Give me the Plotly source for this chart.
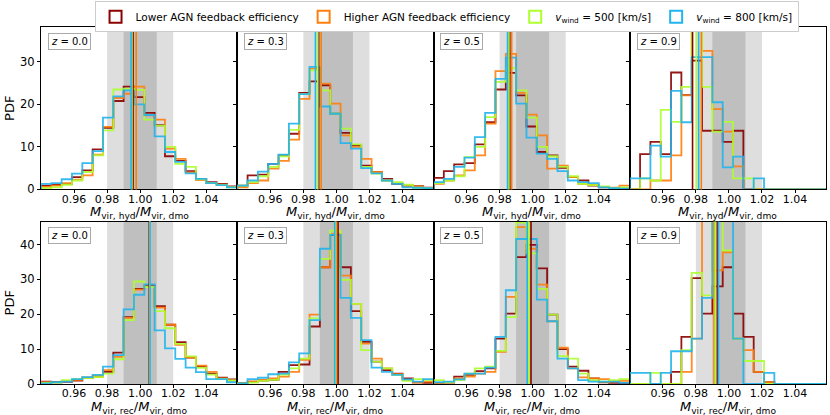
import plotly.graph_objects as go
from plotly.subplots import make_subplots

# histogram bins (same for every panel)
bin_edges = [0.94, 0.94625, 0.9525, 0.95875, 0.965, 0.97125, 0.9775, 0.98375, 0.99, 0.99625,
             1.0025, 1.00875, 1.015, 1.02125, 1.0275, 1.03375, 1.04, 1.04625, 1.0525, 1.05875]
redshifts = ["0.0", "0.3", "0.5", "0.9"]

series_names = [
    "Lower AGN feedback efficiency",
    "Higher AGN feedback efficiency",
    "<i>v</i><sub>wind</sub> = 500 [km/s]",
    "<i>v</i><sub>wind</sub> = 800 [km/s]",
]
colors = ["#8b0000", "#ff7f0e", "#adff2f", "#22b4ee"]

# top row: M_vir,hyd / M_vir,dmo, one list per redshift
hyd_lower = [
    [0.9, 1.1, 1.3, 2.9, 4.5, 9.4, 14.5, 20.8, 24.2, 21.7, 18.0, 15.1, 7.8, 6.7, 4.3, 2.5, 1.7, 1.3, 0.7],
    [0.9, 3.3, 3.5, 6.0, 8.0, 13.1, 22.7, 25.4, 24.5, 17.8, 13.3, 10.4, 5.6, 4.1, 2.5, 1.3, 0.9, 0.8, 0.4],
    [2.7, 4.3, 5.9, 6.2, 10.6, 15.8, 23.5, 27.4, 22.1, 14.8, 8.8, 8.0, 5.1, 2.9, 2.1, 0.9, 0.5, 0.3, 0.2],
    [0, 8.3, 11.2, 8.3, 27.5, 22.2, 30.3, 13.8, 13.8, 11.2, 13.8, 0, 0, 0, 0, 0, 0, 0, 0],
]
hyd_higher = [
    [0.6, 0.9, 1.5, 2.3, 3.3, 8.2, 14.7, 21.5, 22.5, 24.2, 17.4, 16.4, 9.6, 7.2, 4.0, 2.2, 1.5, 1.1, 0.6],
    [0.5, 1.5, 2.1, 4.9, 6.7, 11.7, 21.3, 28.4, 24.9, 20.2, 12.7, 10.0, 7.2, 4.1, 2.1, 1.5, 0.9, 0.7, 0.3],
    [1.3, 2.1, 3.3, 4.5, 8.0, 15.5, 27.8, 31.9, 22.7, 17.6, 12.7, 4.9, 5.6, 2.9, 1.3, 1.1, 0.6, 0.4, 0.9],
    [0, 0, 2.1, 2.1, 8.0, 22.1, 55.0, 32.6, 18.9, 13.6, 5.4, 0, 0, 0, 0, 0, 0, 0, 0],
]
hyd_v500 = [
    [0.3, 0.5, 1.1, 2.1, 4.1, 8.0, 13.9, 23.5, 23.7, 23.4, 16.4, 15.0, 10.0, 6.0, 5.3, 2.4, 1.5, 1.0, 0.5],
    [0.9, 1.7, 3.1, 5.3, 7.8, 14.0, 22.4, 28.0, 23.3, 17.8, 14.3, 10.6, 5.3, 3.7, 2.1, 1.7, 1.1, 0.4, 0.3],
    [1.5, 2.1, 3.1, 7.6, 10.0, 17.0, 25.3, 28.5, 23.3, 16.9, 10.0, 7.8, 5.3, 3.1, 1.3, 1.0, 0.7, 0.3, 0.5],
    [0, 2.6, 2.1, 18.7, 15.9, 24.1, 37.3, 24.1, 13.6, 15.9, 2.6, 2.6, 0, 0, 0, 0, 0, 0, 0],
]
hyd_v800 = [
    [1.3, 1.5, 2.4, 3.7, 6.2, 9.0, 16.9, 21.9, 23.3, 20.0, 17.5, 12.5, 8.8, 6.5, 3.8, 2.5, 1.5, 1.0, 0.5],
    [0.9, 2.1, 4.2, 6.0, 8.2, 15.5, 22.4, 28.8, 19.5, 17.8, 10.9, 9.6, 5.0, 3.8, 2.1, 1.3, 0.5, 0.4, 0.3],
    [1.7, 2.5, 5.3, 7.5, 12.3, 18.0, 26.0, 31.0, 20.2, 12.2, 8.4, 7.2, 4.3, 2.1, 1.7, 1.5, 0.5, 0.3, 0.2],
    [2.6, 2.6, 10.3, 7.7, 23.2, 15.8, 31.1, 31.1, 20.5, 5.2, 7.7, 0, 2.6, 0, 0, 0, 0, 0, 0],
]

# bottom row: M_vir,rec / M_vir,dmo
rec_lower = [
    [0.7, 0.6, 0.6, 1.0, 1.7, 2.1, 3.5, 9.0, 19.2, 27.3, 28.3, 22.3, 17.0, 12.0, 7.6, 5.0, 3.0, 1.8, 1.3],
    [0.3, 0.7, 1.0, 1.2, 3.5, 5.4, 5.6, 16.5, 33.5, 42.8, 33.5, 20.9, 12.1, 6.4, 4.0, 3.0, 1.6, 0.5, 0.3],
    [0.3, 0.4, 2.1, 2.6, 3.7, 4.5, 13.0, 20.2, 36.4, 39.9, 33.2, 19.9, 10.0, 5.0, 3.8, 1.6, 0.5, 0.3, 0.2],
    [0, 0, 0, 0, 3.5, 13.5, 30.4, 20.2, 28.0, 33.5, 20.2, 13.5, 3.5, 0.5, 0, 0, 0, 0, 0],
]
rec_higher = [
    [0.5, 0.4, 0.8, 1.2, 1.9, 2.3, 4.0, 7.8, 19.0, 27.1, 28.0, 21.9, 17.0, 11.2, 7.6, 5.3, 3.5, 1.6, 1.0],
    [0.2, 0.7, 1.2, 1.6, 2.1, 3.5, 6.9, 19.9, 33.5, 43.0, 31.1, 23.0, 11.6, 7.3, 4.5, 2.8, 1.2, 0.4, 0.7],
    [0.2, 0.5, 1.6, 2.1, 3.0, 3.5, 9.2, 25.0, 45.0, 38.8, 28.5, 18.0, 10.4, 4.5, 1.9, 1.6, 1.4, 0.7, 0.9],
    [0, 0, 0, 0, 0, 3.5, 13.0, 50.0, 32.6, 37.8, 13.0, 9.7, 3.5, 0.5, 0, 0, 0, 0, 0],
]
rec_v500 = [
    [0.3, 0.4, 1.1, 1.5, 1.7, 2.0, 3.0, 7.1, 18.3, 29.4, 27.8, 20.9, 16.0, 11.5, 7.9, 4.6, 2.7, 1.5, 1.0],
    [0.2, 0.4, 0.9, 1.2, 2.7, 4.5, 7.3, 18.8, 35.9, 44.0, 29.9, 23.0, 9.7, 6.4, 4.5, 2.6, 0.9, 1.4, 1.2],
    [1.1, 0.5, 1.1, 3.0, 4.5, 5.0, 9.5, 19.2, 46.3, 37.5, 27.3, 19.9, 8.0, 7.3, 3.0, 1.1, 0.7, 1.1, 1.4],
    [0, 0, 3.2, 0, 0, 9.7, 31.9, 25.4, 48.0, 38.3, 13.0, 6.6, 6.6, 0, 0, 0, 0, 0, 0],
]
rec_v800 = [
    [0.2, 0.5, 0.7, 1.4, 2.0, 2.6, 5.0, 8.3, 21.4, 25.6, 28.6, 15.4, 10.2, 7.2, 4.7, 3.4, 1.4, 1.4, 0.5],
    [0.2, 1.4, 1.8, 2.8, 3.0, 6.2, 8.8, 18.3, 38.8, 42.8, 24.7, 19.0, 12.6, 4.7, 3.5, 2.6, 1.3, 0.7, 1.4],
    [0.5, 0.7, 1.3, 3.0, 3.0, 4.7, 13.5, 26.9, 41.6, 41.6, 24.2, 18.0, 7.3, 4.5, 1.1, 0.7, 0.7, 0.7, 0.3],
    [3.2, 3.2, 0, 3.2, 9.4, 9.4, 13.0, 24.7, 48.0, 48.0, 13.0, 0, 0, 3.2, 0, 0, 0, 0, 0],
]

# vertical lines (central value of each run), per redshift
hyd_lines = {
    "lower": [0.9957, 0.9893, 0.9862, 0.9780],
    "higher": [0.9976, 0.9908, 0.9873, 0.9833],
    "v500": [0.9950, 0.9887, 0.9856, 0.9802],
    "v800": [0.9945, 0.9873, 0.9848, 0.9817],
}
rec_lines = {
    "lower": [1.0055, 1.0010, 0.9990, 0.9930],
    "higher": [1.0058, 1.0000, 0.9973, 0.9910],
    "v500": [1.0060, 0.9994, 0.9977, 0.9918],
    "v800": [1.0060, 0.9990, 0.9967, 0.9937],
}

y_max = [38.2, 46.6]
x_ticks = [0.96, 0.98, 1.00, 1.02, 1.04]
x_titles = [
    "<i>M</i><sub>vir, hyd</sub>/<i>M</i><sub>vir, dmo</sub>",
    "<i>M</i><sub>vir, rec</sub>/<i>M</i><sub>vir, dmo</sub>",
]

rows = [
    (hyd_lower, hyd_higher, hyd_v500, hyd_v800, hyd_lines),
    (rec_lower, rec_higher, rec_v500, rec_v800, rec_lines),
]
keys = ["lower", "higher", "v500", "v800"]

font = "DejaVu Sans"
fig = make_subplots(rows=2, cols=4, horizontal_spacing=0, vertical_spacing=0.09)

for r, (lo, hi, v5, v8, lines) in enumerate(rows):
    for c in range(4):
        # shaded 2% and 1% bands
        fig.add_vrect(x0=0.98, x1=1.02, fillcolor="#dedede", line_width=0, opacity=1,
                      layer="below", row=r + 1, col=c + 1, exclude_empty_subplots=False)
        fig.add_vrect(x0=0.99, x1=1.01, fillcolor="#bfbfbf", line_width=0, opacity=1,
                      layer="below", row=r + 1, col=c + 1, exclude_empty_subplots=False)
        for k, heights in enumerate([lo[c], hi[c], v5[c], v8[c]]):
            fig.add_trace(go.Scatter(
                x=[bin_edges[0]] + bin_edges,
                y=[0] + heights + [0],
                mode="lines",
                line=dict(color=colors[k], width=1.8, shape="hv"),
                opacity=0.9,
                showlegend=False,
                hoverinfo="skip",
            ), row=r + 1, col=c + 1)
        for k, key in enumerate(keys):
            fig.add_vline(x=lines[key][c], line=dict(color=colors[k], width=1.6),
                          row=r + 1, col=c + 1)
        fig.add_annotation(
            text=f"<i>z</i> = {redshifts[c]}", xref="x domain", yref="y domain",
            x=0.035, y=0.965, xanchor="left", yanchor="top", showarrow=False,
            font=dict(size=10, color="black", family=font),
            bgcolor="white", bordercolor="#aaaaaa", borderwidth=1, borderpad=2,
            row=r + 1, col=c + 1,
        )
        # x label placed just under the tick labels
        fig.add_annotation(
            text=x_titles[r], xref="x domain", yref="y domain",
            x=0.5, y=0, xanchor="center", yanchor="top", yshift=-14, showarrow=False,
            font=dict(size=13, color="black", family=font), borderpad=0,
            row=r + 1, col=c + 1,
        )
        fig.update_xaxes(
            range=[bin_edges[0], bin_edges[-1]], tickvals=x_ticks,
            ticktext=[f"{t:.2f}" for t in x_ticks],
            row=r + 1, col=c + 1,
        )
        fig.update_yaxes(
            range=[0, y_max[r]], tickvals=[0, 10, 20, 30, 40],
            showticklabels=(c == 0),
            row=r + 1, col=c + 1,
        )
    fig.update_yaxes(title=dict(text="PDF", standoff=2, font=dict(size=13)),
                     row=r + 1, col=1)

# legend handles: outlined boxes like the step patches
for k, name in enumerate(series_names):
    fig.add_trace(go.Bar(
        x=[None], y=[None], name=name,
        marker=dict(color="rgba(0,0,0,0)", line=dict(color=colors[k], width=2)),
    ), row=1, col=1)

fig.update_xaxes(showline=True, mirror=True, linecolor="black", linewidth=1,
                 ticks="outside", ticklen=3, tickcolor="black", showgrid=False,
                 zeroline=False, tickfont=dict(size=11), automargin=False,
                 ticklabelstandoff=-4)
fig.update_yaxes(showline=True, mirror=True, linecolor="black", linewidth=1,
                 ticks="outside", ticklen=3, tickcolor="black", showgrid=False,
                 zeroline=False, tickfont=dict(size=11.5), automargin=False)

fig.update_layout(
    width=830, height=415,
    margin=dict(l=41, r=4, t=27, b=31, autoexpand=False),
    paper_bgcolor="white", plot_bgcolor="white",
    font=dict(family=font, color="black", size=10),
    showlegend=True,
    legend=dict(orientation="h", x=0.538, xanchor="center", y=0.997, yanchor="top",
                yref="container", xref="container",
                bordercolor="#cccccc", borderwidth=1, bgcolor="white",
                font=dict(size=10.5), itemwidth=30, tracegroupgap=0),
)

# page body has a default 8px margin; drop it so the figure sits at the corner
fig.write_html("out.html", config={"displayModeBar": False},
               post_script="document.body.style.margin='0px';")
